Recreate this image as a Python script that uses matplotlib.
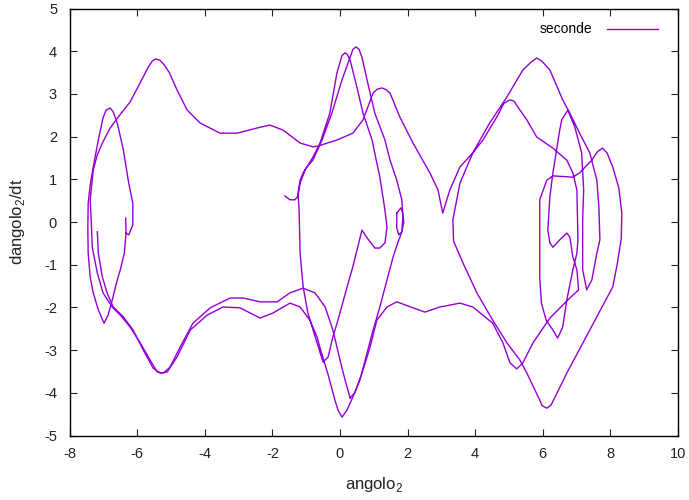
import matplotlib
matplotlib.use("Agg")
import matplotlib.pyplot as plt

# trajectory strands (angolo_2, dangolo_2/dt)
outer_x = [0.30, 0.15, 0.00, -0.21, -0.44, -0.74, -1.09, -1.48, -1.86, -2.36, -2.87, -3.25,
           -3.84, -4.35, -4.73, -5.03, -5.23, -5.41, -5.62, -5.91, -6.21, -6.50, -6.74, -7.01,
           -7.18, -7.33, -7.36, -7.39, -7.30, -7.18, -7.03, -6.80, -6.56, -6.21, -5.82, -5.68,
           -5.55, -5.45, -5.33, -5.20, -5.05, -4.82, -4.52, -4.14, -3.55, -3.04, -2.36, -2.07,
           -1.68, -1.18, -0.80, -0.65, -0.09, 0.38, 0.68, 0.98, 1.10, 1.24, 1.36, 1.48, 1.77,
           2.16, 2.66, 2.90, 3.04, 3.25, 3.55, 3.93, 4.23, 4.64, 4.85, 5.03, 5.15, 5.30, 5.53,
           5.82, 6.30, 6.71, 6.89, 7.01, 7.04, 7.01, 6.89, 6.71, 6.59, 6.44, 6.30, 6.10, 5.96,
           5.91, 5.91, 5.91, 6.12, 6.30, 6.89, 7.09, 7.45, 7.62, 7.77, 7.90, 8.07, 8.25, 8.34, 8.32,
           8.20, 8.07, 7.39, 6.71, 6.25, 6.12, 5.98, 5.91, 5.53, 5.32, 4.94, 4.52, 4.05, 3.64, 3.36, 3.34,
           3.55, 3.93, 4.43, 4.94, 5.41, 5.65, 5.82, 5.98, 6.21, 6.59, 6.80, 7.09, 7.39, 7.60,
           7.66, 7.69, 7.60, 7.45, 7.30, 7.18, 7.18, 7.21, 7.15, 6.95, 6.74, 6.56, 6.50, 6.30,
           6.21, 6.15, 6.21, 6.30, 6.50, 6.71, 6.80, 6.89, 7.01, 7.06, 6.80, 6.21, 5.71, 5.41,
           5.23, 5.03, 4.82, 4.52, 3.93, 3.55, 2.96, 2.51, 2.16, 1.68, 1.39, 1.09, 0.89, 0.68,
           0.44, 0.30]
outer_y = [-4.12, -3.70, -3.23, -2.53, -1.99, -1.66, -1.55, -1.66, -1.87, -1.87, -1.78, -1.78,
           -2.01, -2.37, -2.93, -3.40, -3.54, -3.51, -3.23, -2.83, -2.46, -2.18, -1.99, -1.66,
           -1.19, -0.59, 0.05, 0.52, 1.22, 1.57, 1.85, 2.20, 2.46, 2.81, 3.40, 3.62,
           3.77, 3.82, 3.79, 3.68, 3.50, 3.09, 2.62, 2.32, 2.08, 2.08, 2.22, 2.27,
           2.15, 1.85, 1.76, 1.78, 1.92, 2.08, 2.39, 3.02, 3.11, 3.14, 3.10, 3.02, 2.46,
           1.85, 1.15, 0.75, 0.21, 0.75, 1.29, 1.62, 1.92, 2.46, 2.78, 2.86, 2.83, 2.65, 2.39,
           1.99, 1.73, 1.45, 1.15, 0.75, -0.42, -0.73, -1.12, -1.83, -2.46, -2.72, -2.53, -2.30, -1.90,
           -1.30, -0.42, 0.52, 0.98, 1.08, 1.05, 1.15, 1.45, 1.65, 1.73, 1.62, 1.29, 0.80, 0.20, -0.40,
           -1.00, -1.52, -2.53, -3.54, -4.28, -4.36, -4.30, -4.17, -3.54, -3.23, -2.83, -2.30, -1.66, -0.96, -0.45, 0.05,
           0.91, 1.62, 2.32, 2.93, 3.56, 3.74, 3.84, 3.76, 3.56, 2.86, 2.55, 2.08, 1.62, 0.98,
           0.35, -0.42, -0.73, -1.36, -1.59, -1.12, 0.05, 0.75, 1.62, 2.22, 2.62, 2.39, 2.15, 1.15,
           0.59, -0.19, -0.49, -0.59, -0.42, -0.26, -0.35, -0.82, -1.12, -1.59, -1.78, -2.25, -2.83, -3.30,
           -3.44, -3.30, -2.83, -2.37, -1.99, -1.90, -1.99, -2.11, -2.01, -1.87, -1.99, -2.30, -2.93, -3.47,
           -4.00, -4.12]

inner_x = [-7.18, -7.15, -7.03, -6.89, -6.71, -6.41, -6.12, -5.82, -5.53, -5.32, -5.11, -4.82,
           -4.43, -3.93, -3.46, -2.96, -2.36, -1.98, -1.48, -1.18, -0.89, -0.68, -0.53, -0.35,
           -0.15, -0.06, 0.06, 0.21, 0.38, 0.59, 0.80, 0.98, 1.18, 1.39, 1.57, 1.71, 1.83, 1.86,
           1.83, 1.68, 1.48, 1.33, 1.03, 0.80, 0.65, 0.56, 0.47, 0.38, 0.30, 0.06, -0.24, -0.53,
           -0.80, -0.98, -1.09, -1.18, -1.24, -1.21, -1.18, -1.09, -0.95, -0.68, -0.50, -0.35,
           -0.21, -0.06, 0.21, 0.38, 0.65, 0.80, 1.03, 1.18, 1.33, 1.39, 1.33, 1.18, 1.09, 0.95,
           0.68, 0.50, 0.30, 0.22, 0.15, 0.06, -0.09, -0.30, -0.59, -0.80, -1.03, -1.18, -1.24,
           -1.33, -1.48, -1.63]
inner_y = [-0.23, -0.73, -1.29, -1.66, -1.99, -2.22, -2.53, -3.00, -3.42, -3.54, -3.51, -3.16,
           -2.53, -2.18, -1.99, -2.01, -2.25, -2.13, -1.90, -1.99, -2.30, -2.69, -3.11, -3.58,
           -4.17, -4.40, -4.57, -4.40, -4.10, -3.70, -3.07, -2.53, -1.99, -1.36, -0.82, -0.49, -0.23, 0.12,
           0.52, 0.98, 1.45, 1.92, 2.55, 3.33, 3.86, 4.05, 4.10, 4.04, 3.86, 3.33, 2.55, 1.92,
           1.45, 1.29, 1.15, 0.98, 0.68, 0.28, -0.73, -1.52, -2.13, -2.83, -3.28, -3.16,
           -2.69, -2.30, -1.52, -1.05, -0.19, -0.37, -0.61, -0.61, -0.49, -0.12, 0.28, 1.05, 1.38, 1.92,
           2.55, 3.16, 3.79, 3.92, 3.96, 3.90, 3.49, 2.55, 1.85, 1.52, 1.22, 0.91, 0.61,
           0.52, 0.52, 0.61]

loop_x = [-6.34, -6.33, -6.25, -6.13, -6.13, -6.25, -6.41, -6.59, -6.71, -6.80, -6.92, -7.01,
          -7.15, -7.30, -7.39, -7.45, -7.46, -7.45, -7.39, -7.30, -7.15, -6.98, -6.86, -6.74,
          -6.59, -6.50, -6.38, -6.33]
loop_y = [0.09, -0.26, -0.30, -0.07, 0.44, 0.91, 1.69, 2.32, 2.58, 2.67, 2.62, 2.44,
          1.92, 1.29, 0.87, 0.44, -0.19, -0.73, -1.29, -1.66, -2.06, -2.37, -2.18, -1.83,
          -1.36, -1.12, -0.73, -0.26]

oval_x = [1.68, 1.80, 1.86, 1.89, 1.83, 1.74, 1.68, 1.68, 1.68]
oval_y = [0.21, 0.33, 0.21, 0.00, -0.23, -0.30, -0.14, 0.09, 0.21]

xticks = [-8, -6, -4, -2, 0, 2, 4, 6, 8, 10]
yticks = [-5, -4, -3, -2, -1, 0, 1, 2, 3, 4, 5]

plt.rcParams["font.family"] = ["Liberation Sans", "DejaVu Sans"]
plt.rcParams["axes.unicode_minus"] = False
plt.rcParams["mathtext.fontset"] = "custom"
plt.rcParams["mathtext.rm"] = "Liberation Sans"

color = "#9400d3"
fig = plt.figure(figsize=(6.89, 5.0), dpi=100)
ax = fig.add_axes([0.101, 0.129, 0.883, 0.854])

ax.plot(outer_x, outer_y, color=color, lw=1.0, label="seconde")
for xs, ys in [(inner_x, inner_y), (loop_x, loop_y), (oval_x, oval_y)]:
    ax.plot(xs, ys, color=color, lw=1.0)

ax.set_xlim(-8, 10)
ax.set_ylim(-5, 5)
ax.set_xticks(xticks)
ax.set_yticks(yticks)
ax.tick_params(direction="in", length=5, width=0.8, top=True, right=True,
               labelsize=10.5, colors="#222222")
ax.tick_params(axis="x", pad=8)
ax.tick_params(axis="y", pad=9)
for s in ax.spines.values():
    s.set_linewidth(1.0)

ax.set_xlabel("angolo$_\\mathrm{2}$", fontsize=12, color="#222222", labelpad=10)
ax.set_ylabel("dangolo$_\\mathrm{2}$/dt", fontsize=12, color="#222222", labelpad=12)

ax.legend(loc="upper right", bbox_to_anchor=(0.99, 1.0), frameon=False, fontsize=10,
          handlelength=3.7, handletextpad=1.0, markerfirst=False,
          borderaxespad=0.6)

fig.savefig("out.png", dpi=100)
